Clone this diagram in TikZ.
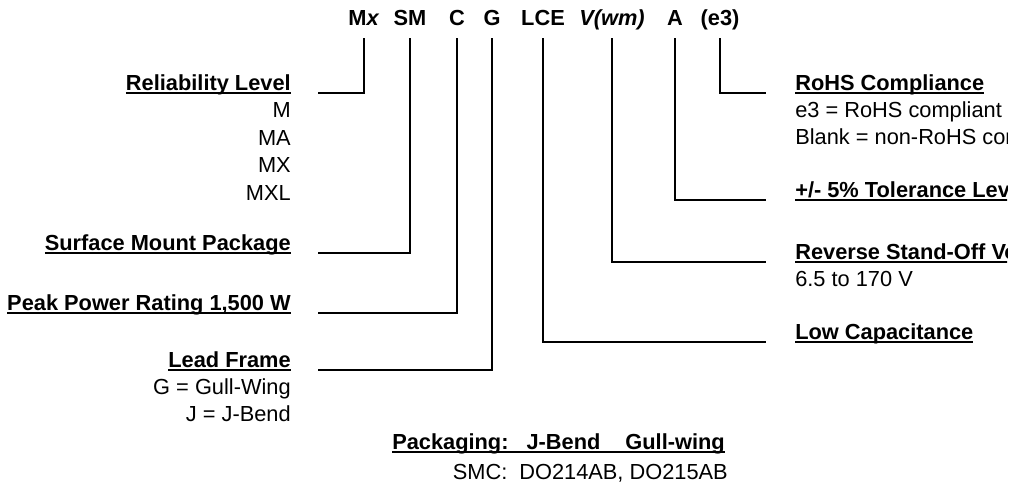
\documentclass[tikz,border=0pt]{standalone}
\usepackage{fontspec}
\setmainfont{Liberation Sans}
\usepackage{tikz}
\usetikzlibrary{positioning}

% underline with a thicker rule, a bit below the baseline
\newcommand\ulhead[1]{\setbox0\hbox{#1}\rlap{\rule[-3pt]{\wd0}{1.5pt}}\box0}

\begin{document}
\begin{tikzpicture}[x=0.75pt,y=-0.75pt,
  every node/.style={inner sep=0pt,font=\fontsize{16.35}{20}\selectfont},
  code/.style={anchor=base,text depth=0pt,inner ysep=9.75pt,font=\fontsize{16.35}{20}\selectfont\bfseries},
  lhead/.style={anchor=base east,font=\fontsize{16.35}{20}\selectfont\bfseries},
  rhead/.style={anchor=base west,font=\fontsize{16.35}{20}\selectfont\bfseries},
  lsub/.style={anchor=base east},
  rsub/.style={anchor=base west},
  lead/.style={line width=1.8pt}]
  \useasboundingbox (0,0) rectangle (1020,486);
  \clip (0,0) rectangle (1007,486);

  % part number
  \node[code] (mx) at (364,25) {M\textit{x}};
  \node[code] (sm) at (410,25) {SM};
  \node[code] (c) at (457,25) {C};
  \node[code] (g) at (492,25) {G};
  \node[code] (lce) at (543,25) {LCE};
  \node[code] (vwm) at (612,25) {\textit{V(wm)}};
  \node[code] (a) at (675,25) {A};
  \node[code] (ethree) at (720,25) {(e3)};

  % left side
  \node[lhead] (rel) at (291,90) {\ulhead{Reliability Level}};
  \foreach \lvl [count=\i] in {M,MA,MX,MXL}
    \node[lsub] (rel\i) at (291,90+27.5*\i) {\lvl};
  \node[lhead] (smp) at (291,250) {\ulhead{Surface Mount Package}};
  \node[lhead] (ppr) at (291,310) {\ulhead{Peak Power Rating 1,500 W}};
  \node[lhead] (lf) at (291,367) {\ulhead{Lead Frame}};
  \node[lsub] (lfg) at (291,394) {G = Gull-Wing};
  \node[lsub] (lfj) at (291,421) {J = J-Bend};

  % right side
  \node[rhead] (rohs) at (795,90) {\ulhead{RoHS Compliance}};
  \node[rsub] (rohs1) at (795,117) {e3 = RoHS compliant};
  \node[rsub] (rohs2) at (795,144) {Blank = non-RoHS compliant};
  \node[rhead] (tol) at (795,197) {\ulhead{+/- 5\% Tolerance Level}};
  \node[rhead] (rso) at (795,259) {\ulhead{Reverse Stand-Off Voltage}};
  \node[rsub] (rsov) at (795,286) {6.5 to 170 V};
  \node[rhead] (lowc) at (795,339) {\ulhead{Low Capacitance}};

  % packaging
  \node[rhead] (pkg) at (392,449) {\ulhead{Packaging:\hspace{13.5pt}J-Bend\hspace{18.75pt}Gull-wing}};
  \node[lsub] (smc) at (728,479) {SMC:\hspace{9pt}DO214AB, DO215AB};

  % leads
  \draw[lead] (mx.south) |- ([xshift=20.25pt,yshift=-2.25pt]rel.base east);
  \draw[lead] (sm.south) |- ([xshift=20.25pt,yshift=-2.25pt]smp.base east);
  \draw[lead] (c.south) |- ([xshift=20.25pt,yshift=-2.25pt]ppr.base east);
  \draw[lead] (g.south) |- ([xshift=20.25pt,yshift=-2.25pt]lf.base east);
  \draw[lead] (lce.south) |- ([xshift=-21.75pt,yshift=-2.25pt]lowc.base west);
  \draw[lead] (vwm.south) |- ([xshift=-21.75pt,yshift=-2.25pt]rso.base west);
  \draw[lead] (a.south) |- ([xshift=-21.75pt,yshift=-2.25pt]tol.base west);
  \draw[lead] (ethree.south) |- ([xshift=-21.75pt,yshift=-2.25pt]rohs.base west);
\end{tikzpicture}
\end{document}
